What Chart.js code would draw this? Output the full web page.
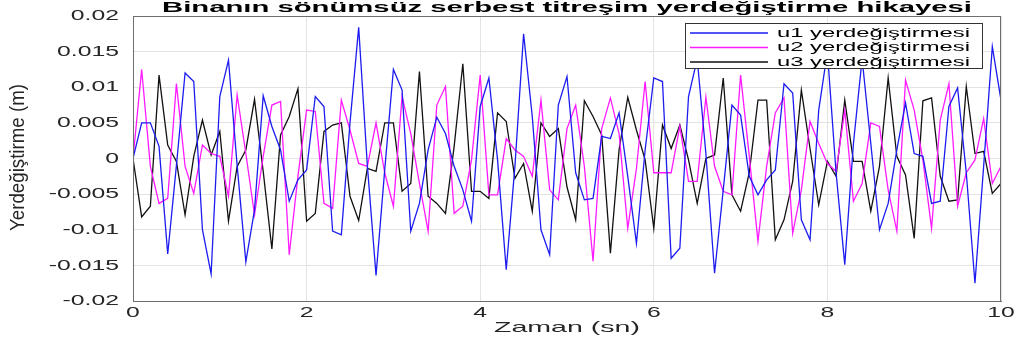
<!DOCTYPE html>
<html>
<head>
<meta charset="utf-8">
<script src="https://cdn.jsdelivr.net/npm/chart.js@4.4.1/dist/chart.umd.min.js"></script>
<style>
  html, body { margin: 0; padding: 0; background: #fff; }
  #wrap { width: 1016px; height: 347px; position: relative; }
</style>
</head>
<body>
<div id="wrap"><canvas id="titresimChart"></canvas></div>
<script>
// zaman (sn), 0.1 s steps
const zaman = [
  0, 0.1, 0.2, 0.3, 0.4, 0.5, 0.6, 0.7, 0.8, 0.9,
  1, 1.1, 1.2, 1.3, 1.4, 1.5, 1.6, 1.7, 1.8, 1.9,
  2, 2.1, 2.2, 2.3, 2.4, 2.5, 2.6, 2.7, 2.8, 2.9,
  3, 3.1, 3.2, 3.3, 3.4, 3.5, 3.6, 3.7, 3.8, 3.9,
  4, 4.1, 4.2, 4.3, 4.4, 4.5, 4.6, 4.7, 4.8, 4.9,
  5, 5.1, 5.2, 5.3, 5.4, 5.5, 5.6, 5.7, 5.8, 5.9,
  6, 6.1, 6.2, 6.3, 6.4, 6.5, 6.6, 6.7, 6.8, 6.9,
  7, 7.1, 7.2, 7.3, 7.4, 7.5, 7.6, 7.7, 7.8, 7.9,
  8, 8.1, 8.2, 8.3, 8.4, 8.5, 8.6, 8.7, 8.8, 8.9,
  9, 9.1, 9.2, 9.3, 9.4, 9.5, 9.6, 9.7, 9.8, 9.9,
  10,
];

const u1 = [
  0, 0.005, 0.005, 0.0017, -0.0134, -0.001, 0.012, 0.0108, -0.010, -0.0162,
  0.0087, 0.0138, -0.001, -0.0145, -0.0072, 0.0088, 0.0045, 0.0012, -0.006, -0.003,
  -0.0016, 0.0087, 0.0073, -0.0102, -0.0107, 0.005, 0.0184, -0.001, -0.0164, -0.0016,
  0.0125, 0.0096, -0.0102, -0.0063, 0.0012, 0.0058, 0.0035, -0.0011, -0.0044, -0.0088,
  0.0073, 0.0113, -0.0002, -0.0156, -0.0011, 0.0175, 0.0059, -0.010, -0.0135, 0.0075,
  0.0115, -0.002, -0.0058, -0.0056, 0.0031, 0.0028, 0.0064, -0.0025, -0.0119, 0.0012,
  0.0113, 0.0108, -0.014, -0.0126, 0.0087, 0.014, 0.0007, -0.0161, -0.0044, 0.0075,
  0.0061, -0.0025, -0.0051, -0.003, -0.0016, 0.0105, 0.0092, -0.0086, -0.0114, 0.0068,
  0.015, -0.002, -0.0149, 0.0021, 0.014, 0.0021, -0.010, -0.0063, 0.0012, 0.0078,
  0.0007, 0.0003, -0.0063, -0.006, 0.0073, 0.0099, -0.002, -0.0175, -0.0011, 0.0157,
  0.0082,
];

const u2 = [
  0, 0.0125, -0.0011, -0.0063, -0.0056, 0.0105, -0.0011, -0.0049, 0.0019, 0.0007,
  0.0003, -0.0053, 0.0089, 0.0007, -0.0079, 0.0003, 0.0075, 0.008, -0.0135, -0.0025,
  0.0068, 0.0066, -0.0063, -0.007, 0.0082, 0.004, -0.0007, -0.0011, 0.005, -0.002,
  -0.0067, 0.0087, 0.0035, -0.0035, -0.0102, 0.0075, 0.0101, -0.0077, -0.0067, -0.0002,
  0.0117, -0.0051, -0.0051, 0.0028, 0.0012, 0.0003, -0.0025, 0.0082, -0.0044, -0.0058,
  0.0042, 0.0075, -0.0011, -0.0144, 0.0042, 0.0085, 0.0035, -0.0098, -0.0014, 0.0108,
  -0.002, -0.002, -0.002, 0.0045, -0.0032, -0.0032, 0.0086, -0.0011, -0.0046, -0.0051,
  0.0117, 0.0003, -0.0116, -0.0011, 0.0064, 0.0085, -0.0105, -0.0044, 0.0052, 0.0021,
  -0.0007, -0.0018, 0.0068, -0.006, -0.0035, 0.005, 0.0045, -0.0044, -0.0102, 0.011,
  0.0068, -0.0002, -0.0098, 0.0054, 0.0105, -0.0067, -0.002, -0.0002, 0.0056, -0.0035,
  -0.0011,
];

const u3 = [
  0, -0.0082, -0.0067, 0.0117, 0.0019, -0.0004, -0.0079, 0.0003, 0.0054, 0.0005,
  0.0038, -0.0088, -0.0011, 0.0012, 0.0083, -0.0018, -0.0127, 0.0033, 0.0059, 0.0098,
  -0.0088, -0.0077, 0.0038, 0.0047, 0.005, -0.0053, -0.0087, -0.0014, -0.0018, 0.005,
  0.005, -0.0046, -0.0035, 0.0122, -0.0053, -0.0063, -0.0077, 0.0017, 0.0133, -0.0046,
  -0.0046, -0.0056, 0.0064, 0.0052, -0.0028, -0.0007, -0.0074, 0.005, 0.0031, 0.0042,
  -0.004, -0.0086, 0.0081, 0.0059, 0.0033, -0.0133, 0.0012, 0.0086, 0.004, -0.0002,
  -0.0098, 0.0047, 0.0014, 0.0047, -0.0002, -0.0063, 0, 0.0005, 0.0113, -0.0051,
  -0.0074, -0.002, 0.0082, 0.0082, -0.0114, -0.0086, -0.0032, 0.0096, 0.0014, -0.0065,
  -0.0004, -0.0025, 0.0082, -0.0004, -0.0004, -0.0074, -0.0011, 0.0113, 0.0003, -0.0023,
  -0.0112, 0.0081, 0.0085, -0.0025, -0.006, -0.0058, 0.0101, 0.0007, 0.001, -0.0049,
  -0.0035,
];

const seriesNames = ["u1 yerdeğiştirmesi", "u2 yerdeğiştirmesi", "u3 yerdeğiştirmesi"];
const xTicks = [0, 2, 4, 6, 8, 10];
const yTicks = [-0.02, -0.015, -0.01, -0.005, 0, 0.005, 0.01, 0.015, 0.02];

const chartTitle = "Binanın sönümsüz serbest titreşim yerdeğiştirme hikayesi";
const xTitle = "Zaman (sn)";
const yTitle = "Yerdeğiştirme (m)";

const FONT = "'Liberation Sans', Arial, sans-serif";
const colors = ["#1c1cf0", "#ff1aff", "#111111"];
const TICK_STRETCH = 1.65;

function toPoints(values) {
  return values.map((v, i) => ({ x: zaman[i], y: v }));
}

function fmt(v) {
  return String(Number(v.toFixed(4)));
}

// the reference figure is stretched sideways, so glyphs are drawn wide
function drawWide(ctx, text, x, y, opts) {
  ctx.save();
  ctx.font = opts.font;
  ctx.fillStyle = opts.color;
  ctx.textBaseline = "middle";
  ctx.textAlign = opts.align || "center";
  const w = ctx.measureText(text).width;
  const sx = opts.width ? opts.width / w : opts.stretch;
  ctx.translate(x, y);
  if (opts.rotate) {
    ctx.rotate(-Math.PI / 2);
    ctx.scale(sx, opts.stretch || 1);
  } else {
    ctx.scale(sx, 1);
  }
  ctx.fillText(text, 0, 0);
  ctx.restore();
}

const matlabLook = {
  id: "matlabLook",
  afterDraw(chart) {
    const ctx = chart.ctx;
    const a = chart.chartArea;
    const cx = (a.left + a.right) / 2;
    const xs = chart.scales.x, ys = chart.scales.y;

    // box around the axes
    ctx.save();
    ctx.strokeStyle = "#6e6e6e";
    ctx.lineWidth = 1;
    ctx.strokeRect(a.left + 0.5, a.top + 0.5, a.right - a.left - 1, a.bottom - a.top);
    ctx.restore();

    // tick labels
    const tickFont = "15px " + FONT;
    xTicks.forEach((v) => {
      drawWide(ctx, fmt(v), xs.getPixelForValue(v), a.bottom + 12,
        { font: tickFont, color: "#262626", stretch: TICK_STRETCH });
    });
    yTicks.forEach((v) => {
      drawWide(ctx, fmt(v), a.left - 14, ys.getPixelForValue(v),
        { font: tickFont, color: "#262626", stretch: TICK_STRETCH, align: "right" });
    });

    drawWide(ctx, chartTitle, cx, 8, { font: "bold 15px " + FONT, color: "#000", width: 810 });
    drawWide(ctx, xTitle, cx, 328, { font: "15px " + FONT, color: "#262626", width: 146 });
    drawWide(ctx, yTitle, 18.5, (a.top + a.bottom) / 2 - 1,
      { font: "14px " + FONT, color: "#262626", width: 147, stretch: 1.4, rotate: true });

    // legend inside the axes, top right
    const bx = a.right - 316, by = a.top + 7, bw = 297, bh = 45;
    ctx.save();
    ctx.fillStyle = "#fff";
    ctx.fillRect(bx, by, bw, bh);
    ctx.strokeStyle = "#333";
    ctx.lineWidth = 1;
    ctx.strokeRect(bx + 0.5, by + 0.5, bw, bh);
    chart.data.datasets.forEach((ds, i) => {
      const y = by + 10 + i * 14.5;
      ctx.strokeStyle = ds.borderColor;
      ctx.lineWidth = 1.3;
      ctx.beginPath();
      ctx.moveTo(bx + 5, y);
      ctx.lineTo(bx + 83, y);
      ctx.stroke();
    });
    ctx.restore();
    chart.data.datasets.forEach((ds, i) => {
      const y = by + 10 + i * 14.5;
      drawWide(ctx, ds.label, bx + 92, y,
        { font: "13px " + FONT, color: "#000", width: 193, align: "left" });
    });
  },
};

const ctx = document.getElementById("titresimChart").getContext("2d");
const titresimChart = new Chart(ctx, {
  type: "line",
  data: {
    datasets: [
      { label: seriesNames[0], data: toPoints(u1), borderColor: colors[0], borderWidth: 1.3 },
      { label: seriesNames[1], data: toPoints(u2), borderColor: colors[1], borderWidth: 1.3 },
      { label: seriesNames[2], data: toPoints(u3), borderColor: colors[2], borderWidth: 1.3 },
    ],
  },
  options: {
    responsive: true,
    maintainAspectRatio: false,
    animation: false,
    layout: { padding: { top: 16, right: 15, left: 0, bottom: 0 } },
    elements: {
      point: { radius: 0 },
      line: { tension: 0 },
    },
    plugins: {
      legend: { display: false },
      tooltip: { enabled: false },
    },
    scales: {
      x: {
        type: "linear",
        min: 0,
        max: 10,
        afterFit: (s) => { s.height = 46; },
        afterBuildTicks: (s) => { s.ticks = xTicks.map((v) => ({ value: v })); },
        ticks: { display: false },
        grid: { color: "#e3e3e3", drawTicks: false },
        border: { color: "#6e6e6e" },
      },
      y: {
        min: -0.02,
        max: 0.02,
        afterFit: (s) => { s.width = 133; },
        afterBuildTicks: (s) => { s.ticks = yTicks.map((v) => ({ value: v })); },
        ticks: { display: false },
        grid: { color: "#e3e3e3", drawTicks: false },
        border: { color: "#6e6e6e" },
      },
    },
  },
  plugins: [matlabLook],
});
</script>
</body>
</html>
